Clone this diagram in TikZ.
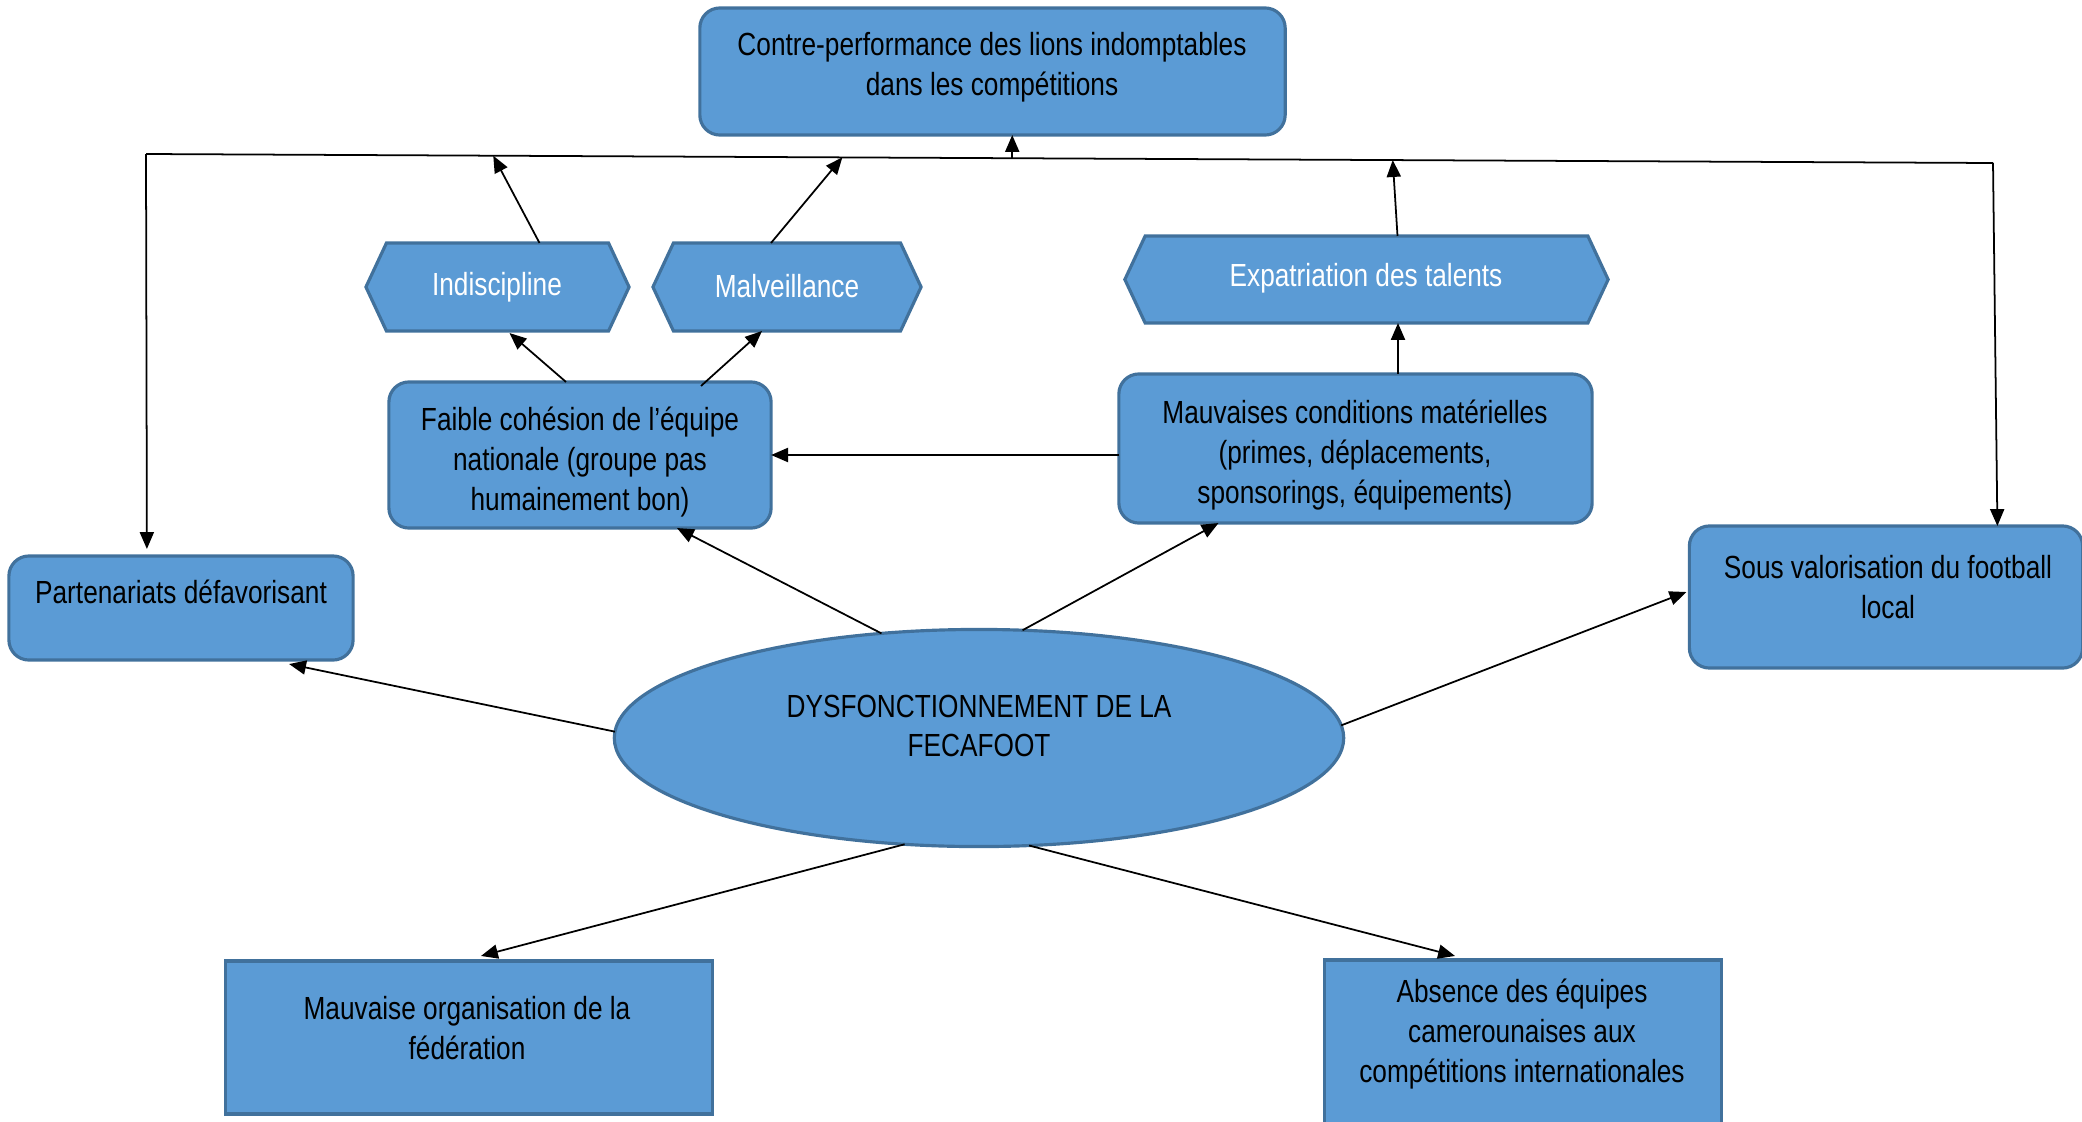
\documentclass[tikz,border=0pt]{standalone}
\usepackage{fontspec}
\setmainfont[FakeStretch=0.82]{Liberation Sans}
\usetikzlibrary{arrows.meta,calc,shapes.geometric,shapes.symbols}
\definecolor{boxfill}{HTML}{5B9BD5}
\definecolor{boxline}{HTML}{41719C}
\begin{document}
\begin{tikzpicture}[x=0.01cm,y=-0.01cm,
  box/.style={draw=boxline, fill=boxfill, line width=0.9pt, inner sep=0pt, outer sep=0pt},
  rbox/.style={box, rounded corners=0.2cm},
  hexa/.style={box, signal, signal to=west and east, signal pointer angle=130},
  oval/.style={box, ellipse},
  txt/.style={align=center, inner sep=0pt, font=\fontsize{9.1}{11.3}\selectfont},
  wtxt/.style={txt, text=white},
  arr/.style={line width=0.5pt, -{Triangle[length=4.8pt,width=4pt]}},
  ln/.style={line width=0.5pt}]
\useasboundingbox (0,0) rectangle (2082,1121);
\clip (0,0) rectangle (2082,1121);
% shapes
\node[rbox, minimum width=5.85cm, minimum height=1.27cm] (top) at (992.5,71.5) {};
\node[hexa, minimum width=2.63cm, minimum height=0.88cm] (indis) at (497.5,287) {};
\node[hexa, minimum width=2.68cm, minimum height=0.88cm] (malv) at (787,287) {};
\node[hexa, minimum width=4.83cm, minimum height=0.87cm] (expat) at (1366.5,279.5) {};
\node[rbox, minimum width=3.82cm, minimum height=1.46cm] (faible) at (580,455) {};
\node[rbox, minimum width=4.73cm, minimum height=1.49cm] (mc) at (1355.5,448.5) {};
\node[rbox, minimum width=3.44cm, minimum height=1.04cm] (part) at (181,608) {};
\node[rbox, minimum width=3.93cm, minimum height=1.42cm] (sv) at (1886,597) {};
\node[oval, minimum width=7.29cm, minimum height=2.17cm] (ell) at (979,738) {};
\node[box, minimum width=4.86cm, minimum height=1.53cm] (mo) at (469,1037.5) {};
\node[box, minimum width=3.96cm, minimum height=1.70cm] (ab) at (1523,1045) {};
% texts
\node[txt] (top-t) at (992,67) {Contre-performance des lions indomptables\\dans les compétitions};
\node[wtxt] (indis-t) at (497,287) {Indiscipline};
\node[wtxt] (malv-t) at (787,286) {Malveillance};
\node[wtxt] (expat-t) at (1366,278) {Expatriation des talents};
\node[txt] (faible-t) at (580,462) {Faible cohésion de l’équipe\\nationale (groupe pas\\humainement bon)};
\node[txt] (mc-t) at (1355,455) {Mauvaises conditions matérielles\\(primes, déplacements,\\sponsorings, équipements)};
\node[txt] (part-t) at (181,592) {Partenariats défavorisant};
\node[txt] (sv-t) at (1888,587) {Sous valorisation du football\\local};
\node[txt] (ell-t) at (979,726) {DYSFONCTIONNEMENT DE LA\\FECAFOOT};
\node[txt] (mo-t) at (467,1028) {Mauvaise organisation de la\\fédération};
\node[txt] (ab-t) at (1522,1034) {Absence des équipes\\camerounaises aux\\compétitions internationales};
% top line
\coordinate (L) at (146,154);
\coordinate (R) at (1993,163);
\coordinate (j0) at ($(L)!0.469!(R)$);
\coordinate (j1) at ($(L)!0.188!(R)$);
\coordinate (j2) at ($(L)!0.377!(R)$);
\coordinate (j3) at ($(L)!0.675!(R)$);
\draw[ln] (L) -- (R);
\draw[arr] (L) -- ($(part.north west)+(138,-7)$);
\draw[arr] (R) -- ($(sv.north west)+(308,0)$);
\draw[arr] (j0) -- (j0 |- top.south);
\draw[arr] ($(indis.north)+(42,0)$) -- (j1);
\draw[arr] ($(malv.north)+(-16,0)$) -- (j2);
\draw[arr] ($(expat.north)+(31,0)$) -- (j3);
% middle
\draw[arr] ($(faible.north)+(-14,0)$) -- ($(indis.south)+(12,2)$);
\draw[arr] ($(faible.north)+(121,4)$) -- ($(malv.south)+(-25,0)$);
\draw[arr] ($(mc.north)+(42.5,0)$) -- ($(expat.south)+(31.5,0)$);
\draw[arr] (mc.west |- faible.east) -- (faible.east);
% from ellipse
\draw[arr] (ell.133) -- ($(faible.south)+(97,0)$);
\draw[arr] (ell.68) -- ($(mc.south)+(-137,0)$);
\draw[arr] (ell.179) -- ($(part.south east)+(-64,4)$);
\draw[arr] (ell.2) -- ($(sv.west)+(-3,-5)$);
\draw[arr] (ell.235) -- ($(mo.north)+(12,-5)$);
\draw[arr] (ell.295) -- ($(ab.north)+(-68,-4)$);
\end{tikzpicture}
\end{document}
